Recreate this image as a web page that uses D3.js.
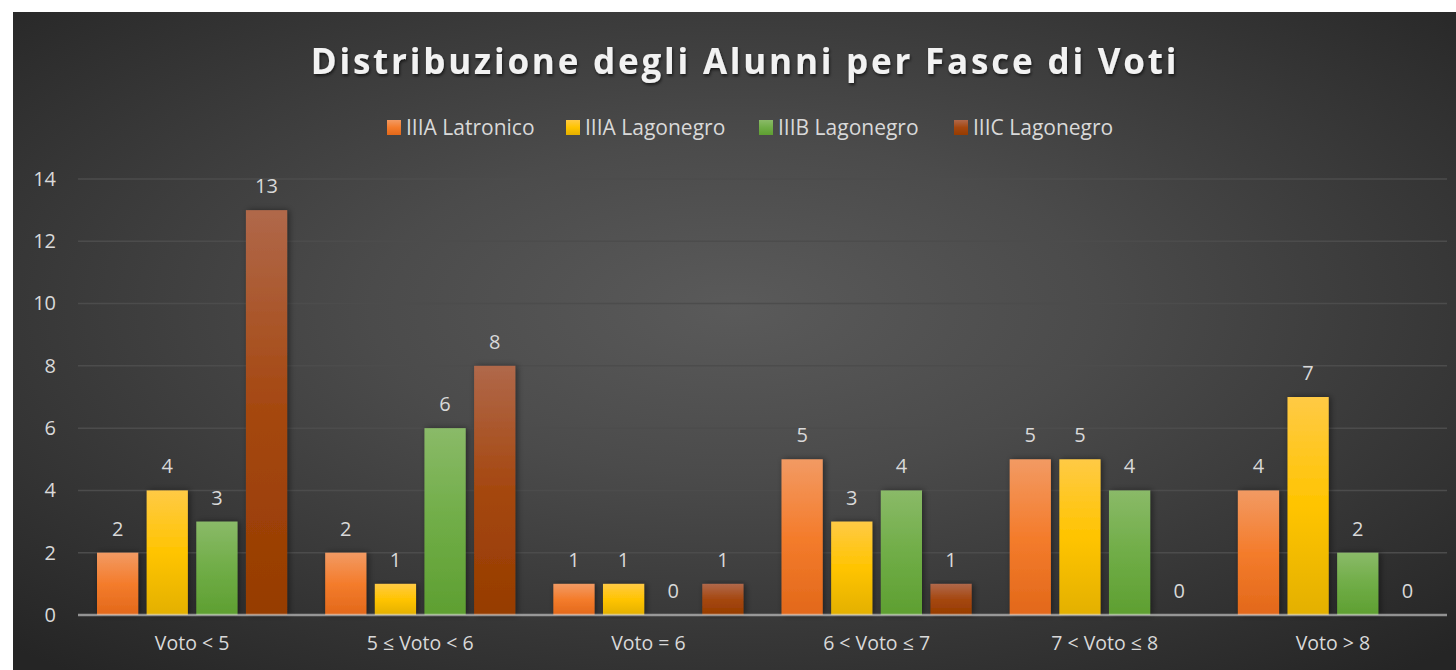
<!DOCTYPE html>
<html>
<head>
<meta charset="utf-8">
<script src="https://cdn.jsdelivr.net/npm/d3@7"></script>
<style>
  body { margin: 0; background: #fff; }
  svg text { font-family: "Open Sans", sans-serif; }
</style>
</head>
<body>
<div id="chart"></div>
<script>
// data
const categories = ['Voto < 5', '5 ≤ Voto < 6', 'Voto = 6', '6 < Voto ≤ 7', '7 < Voto ≤ 8', 'Voto > 8'];
const seriesNames = ['IIIA Latronico', 'IIIA Lagonegro', 'IIIB Lagonegro', 'IIIC Lagonegro'];
const latronicoA = [2, 2, 1, 5, 5, 4];
const lagonegroA = [4, 1, 1, 3, 5, 7];
const lagonegroB = [3, 6, 0, 4, 4, 2];
const lagonegroC = [13, 8, 1, 1, 0, 0];
const yTicks = [0, 2, 4, 6, 8, 10, 12, 14];

const seriesValues = [latronicoA, lagonegroA, lagonegroB, lagonegroC];
const palette = [
  ['#f29a63', '#f47c2c', '#e2681a'],
  ['#ffca45', '#ffc400', '#e3b000'],
  ['#8aba68', '#70ad47', '#5e9f31'],
  ['#b0684a', '#a5470f', '#963c00']
];

const W = 1456;
const H = 670;
const margin = { top: 179, right: 9, bottom: 55, left: 78 };

const svg = d3.select('#chart').append('svg')
    .attr('width', W)
    .attr('height', H);

const defs = svg.append('defs');

const bg = defs.append('radialGradient')
    .attr('id', 'bg')
    .attr('cx', '50%')
    .attr('cy', '45%')
    .attr('r', '72%');
bg.append('stop').attr('offset', '0%').attr('stop-color', '#5a5a5a');
bg.append('stop').attr('offset', '35%').attr('stop-color', '#4b4b4b');
bg.append('stop').attr('offset', '100%').attr('stop-color', '#252525');

palette.forEach((p, i) => {
  const g = defs.append('linearGradient')
      .attr('id', `bar${i}`)
      .attr('x1', 0).attr('y1', 0)
      .attr('x2', 0).attr('y2', 1);
  g.append('stop').attr('offset', '0%').attr('stop-color', p[0]);
  g.append('stop').attr('offset', '50%').attr('stop-color', p[1]);
  g.append('stop').attr('offset', '100%').attr('stop-color', p[2]);
});

const shadow = defs.append('filter')
    .attr('id', 'shadow')
    .attr('x', '-30%').attr('y', '-10%')
    .attr('width', '160%').attr('height', '120%');
shadow.append('feDropShadow')
    .attr('dx', 2).attr('dy', 0)
    .attr('stdDeviation', 3)
    .attr('flood-color', '#000')
    .attr('flood-opacity', 0.45);

const tshadow = defs.append('filter').attr('id', 'tshadow');
tshadow.append('feDropShadow')
    .attr('dx', 1).attr('dy', 2)
    .attr('stdDeviation', 1.5)
    .attr('flood-color', '#000')
    .attr('flood-opacity', 0.6);

// background
svg.append('rect')
    .attr('x', 13)
    .attr('y', 12)
    .attr('width', W - 13)
    .attr('height', H - 12)
    .attr('fill', 'url(#bg)');

// scales
const x0 = d3.scaleBand()
    .domain(categories)
    .range([margin.left, W - margin.right])
    .paddingInner(0.1667)
    .paddingOuter(0.0833);

const x1 = d3.scaleBand()
    .domain(seriesNames)
    .range([0, x0.bandwidth()])
    .paddingInner(0.17);

const y = d3.scaleLinear()
    .domain([0, 14])
    .range([H - margin.bottom, margin.top]);

// gridlines
svg.append('g')
    .attr('class', 'grid')
  .selectAll('line')
  .data(yTicks.filter(d => d > 0))
  .join('line')
    .attr('x1', margin.left)
    .attr('x2', W - margin.right)
    .attr('y1', d => y(d))
    .attr('y2', d => y(d))
    .attr('stroke', '#4c4c4c')
    .attr('stroke-width', 1.5);

// y axis
const yAxis = d3.axisLeft(y).tickValues(yTicks).tickSize(0).tickPadding(22);
const yg = svg.append('g')
    .attr('transform', `translate(${margin.left}, 0)`)
    .call(yAxis);
yg.select('.domain').remove();
yg.selectAll('text')
    .attr('fill', '#d9d9d9')
    .style('font-size', '20px');

// bars
const groups = svg.append('g')
  .selectAll('g')
  .data(categories)
  .join('g')
    .attr('transform', d => `translate(${x0(d)}, 0)`);

groups.selectAll('rect')
  .data((c, ci) => seriesNames.map((s, si) => ({ s, si, v: seriesValues[si][ci] })))
  .join('rect')
    .filter(d => d.v > 0)
    .attr('x', d => x1(d.s))
    .attr('y', d => y(d.v))
    .attr('width', x1.bandwidth())
    .attr('height', d => y(0) - y(d.v))
    .attr('fill', d => `url(#bar${d.si})`)
    .attr('filter', 'url(#shadow)');

groups.selectAll('text')
  .data((c, ci) => seriesNames.map((s, si) => ({ s, si, v: seriesValues[si][ci] })))
  .join('text')
    .attr('x', d => x1(d.s) + x1.bandwidth() / 2)
    .attr('y', d => y(d.v) - 17)
    .attr('text-anchor', 'middle')
    .attr('fill', '#d9d9d9')
    .style('font-size', '20px')
    .text(d => d.v);

// x axis
const xAxis = d3.axisBottom(x0).tickSize(0).tickPadding(21);
const xg = svg.append('g')
    .attr('transform', `translate(0, ${y(0)})`)
    .call(xAxis);
xg.select('.domain')
    .attr('d', `M${margin.left},0H${W - margin.right}`)
    .attr('stroke', 'rgba(217,217,217,0.6)')
    .attr('stroke-width', 2.5);
xg.selectAll('text')
    .attr('fill', '#d9d9d9')
    .style('font-size', '19.5px');

// title
svg.append('text')
    .attr('x', 745)
    .attr('y', 74)
    .attr('text-anchor', 'middle')
    .attr('fill', '#f2f2f2')
    .attr('filter', 'url(#tshadow)')
    .style('font-size', '35px')
    .style('font-weight', 'bold')
    .style('letter-spacing', '2.8px')
    .text('Distribuzione degli Alunni per Fasce di Voti');

// legend
const legendX = [387, 566, 759, 954];
const legend = svg.append('g')
  .selectAll('g')
  .data(seriesNames)
  .join('g')
    .attr('transform', (d, i) => `translate(${legendX[i]}, 120)`);

legend.append('rect')
    .attr('width', 14)
    .attr('height', 15)
    .attr('fill', (d, i) => `url(#bar${i})`);

legend.append('text')
    .attr('x', 19)
    .attr('y', 14.5)
    .attr('fill', '#d9d9d9')
    .style('font-size', '21px')
    .text(d => d);
</script>
</body>
</html>
